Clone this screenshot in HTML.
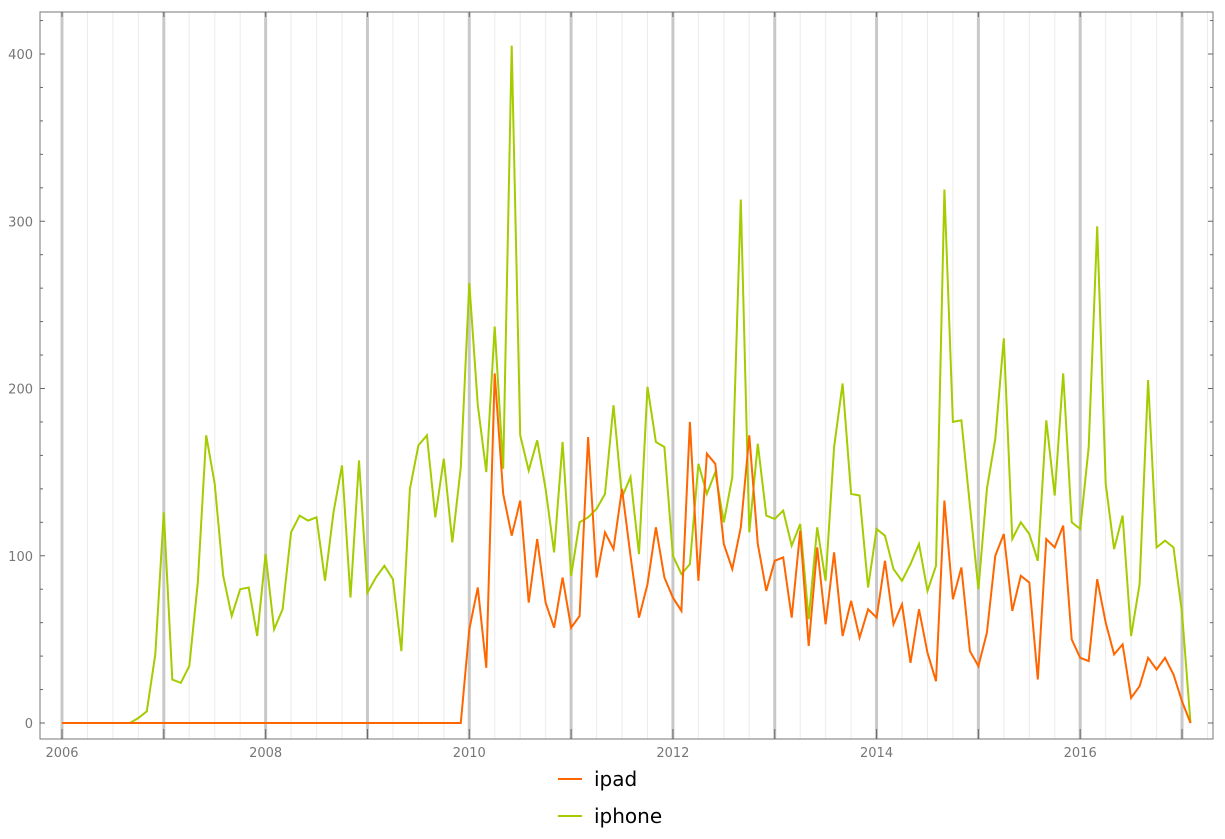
<!DOCTYPE html>
<html><head><meta charset="utf-8"><style>
body{margin:0;background:#fff;}
svg text{font-family:"DejaVu Sans","Liberation Sans",sans-serif;}
</style></head><body>
<svg id="s" width="1225" height="834" xmlns="http://www.w3.org/2000/svg"></svg>
<script>
const s=document.getElementById('s');
let h='';
const X0=62,YR=101.82,Y0=723,K=1.6725;
const L=40,R=1213,T=12,B=739;
for(let q=0;q<=46;q++){const x=X0+q*YR/4; if(x>R)break; if(q%4)h+=`<line x1="${x}" y1="${T}" x2="${x}" y2="${B}" stroke="#ebebeb" stroke-width="1"/>`;}
for(let y=0;y<=11;y++){const x=X0+y*YR;h+=`<line x1="${x}" y1="${T}" x2="${x}" y2="${B}" stroke="#c8c8c8" stroke-width="3"/>`;}
h+=`<rect x="${L}" y="${T}" width="${R-L}" height="${B-T}" fill="none" stroke="#777" stroke-width="1"/>`;
for(let y=0;y<=11;y++){const x=X0+y*YR;h+=`<line x1="${x}" y1="${B}" x2="${x}" y2="${B-10}" stroke="#666"/><line x1="${x}" y1="${T}" x2="${x}" y2="${T+5}" stroke="#666"/>`; if(y%2==0)h+=`<text x="${x}" y="${B+18}" font-size="13" fill="#777" text-anchor="middle">${2006+y}</text>`;}
for(let v=0;v<=420;v+=20){const y=Y0-v*K;if(y<T)break;const len=v%100==0?5:3;h+=`<line x1="${L}" y1="${y}" x2="${L+len}" y2="${y}" stroke="#666"/><line x1="${R}" y1="${y}" x2="${R-len}" y2="${y}" stroke="#666"/>`; if(v%100==0)h+=`<text x="${L-7}" y="${y+5}" font-size="13" fill="#777" text-anchor="end">${v}</text>`;}
const iphone=[0,0,0,0,0,0,0,0,0,3,7,41,126,26,24,34,84,172,143,88,64,80,81,52,101,56,68,114,124,121,123,85,126,154,75,157,78,87,94,86,43,140,166,172,123,158,108,153,263,190,150,237,152,405,172,151,169,140,102,168,88,120,123,128,137,190,135,147,101,201,168,165,100,89,95,155,137,150,120,147,313,114,167,124,122,127,106,119,62,117,85,165,203,137,136,81,116,112,92,85,95,107,79,94,319,180,181,130,80,140,170,230,110,120,113,97,181,136,209,120,116,165,297,143,104,124,52,83,205,105,109,105,66,0];
const ipad=[];for(let i=0;i<48;i++)ipad.push(0);
ipad.push(56,81,33,209,137,112,133,72,110,72,57,87,57,64,171,87,114,104,140,100,63,83,117,87,75,67,180,85,161,155,107,92,117,172,107,79,97,99,63,115,46,105,59,102,52,73,51,68,63,97,59,71,36,68,42,25,133,74,93,43,34,54,100,113,67,88,84,26,110,105,118,50,39,37,86,60,41,47,15,22,39,32,39,29,13,0);
function pl(d,c){return `<polyline fill="none" stroke="${c}" stroke-width="2" points="${d.map((v,i)=>(X0+i*YR/12).toFixed(1)+','+(Y0-v*K).toFixed(1)).join(' ')}"/>`;}
h+=pl(iphone,'#a4cc00');
h+=pl(ipad,'#ff6600');
h+=`<line x1="558" y1="779" x2="582" y2="779" stroke="#ff6600" stroke-width="2"/><text x="594" y="786" font-size="20" fill="#000">ipad</text>`;
h+=`<line x1="558" y1="816" x2="582" y2="816" stroke="#a4cc00" stroke-width="2"/><text x="594" y="823" font-size="20" fill="#000">iphone</text>`;
s.innerHTML=h;
</script>
</body></html>
